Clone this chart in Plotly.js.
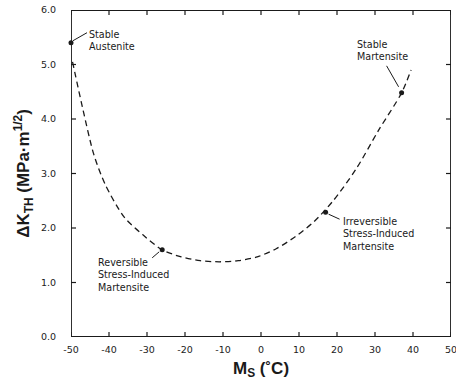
<!DOCTYPE html>
<html>
<head>
<meta charset="utf-8">
<script src="https://cdn.plot.ly/plotly-3.0.1.min.js"></script>
<style>
html,body{margin:0;padding:0;background:#fff;}
#chart{width:456px;height:386px;}
</style>
</head>
<body>
<div id="chart"></div>
<script>
// Dashed fitted curve
const curveX = [-49.6, -47, -44, -41, -36, -31, -26, -21, -16, -11, -6, -1, 4, 9, 14, 19, 25, 31, 37, 39.5];
const curveY = [5.05, 4.22, 3.35, 2.80, 2.20, 1.87, 1.60, 1.47, 1.40, 1.38, 1.40, 1.47, 1.62, 1.84, 2.12, 2.50, 3.08, 3.80, 4.48, 4.90];
// Labelled points
const pointX = [-50, -26, 17, 37];
const pointY = [5.4, 1.6, 2.29, 4.48];
const pointLabels = ["Stable<br>Austenite", "Reversible<br>Stress-Induced<br>Martensite", "Irreversible<br>Stress-Induced<br>Martensite", "Stable<br>Martensite"];
const xTicks = [-50, -40, -30, -20, -10, 0, 10, 20, 30, 40, 50];
const yTicks = [0, 1, 2, 3, 4, 5, 6];
const xRange = [-50, 50];
const yRange = [0, 6];

const ink = '#1a1a1a';
const W = 456, H = 386, M = {l: 71, r: 5, t: 10, b: 49};
const plotW = W - M.l - M.r, plotH = H - M.t - M.b;
const tickPx = 5;
const tdx = tickPx * (xRange[1] - xRange[0]) / plotW;  // tick length in x units
const tdy = tickPx * (yRange[1] - yRange[0]) / plotH;  // tick length in y units

// frame (from axis ranges) and inside ticks on all four sides (from tick arrays)
const frameX = [xRange[0], xRange[1], xRange[1], xRange[0], xRange[0]];
const frameY = [yRange[0], yRange[0], yRange[1], yRange[1], yRange[0]];
const tickX = [], tickY = [];
xTicks.forEach(v => {
  tickX.push(v, v, null, v, v, null);
  tickY.push(yRange[0], yRange[0] + tdy, null, yRange[1], yRange[1] - tdy, null);
});
yTicks.forEach(v => {
  tickX.push(xRange[0], xRange[0] + tdx, null, xRange[1], xRange[1] - tdx, null);
  tickY.push(v, v, null, v, v, null);
});

const traces = [
  {x: tickX, y: tickY, mode: 'lines', type: 'scatter', cliponaxis: false, connectgaps: false,
   line: {color: ink, width: 1.2}, hoverinfo: 'skip'},
  {x: frameX, y: frameY, mode: 'lines', type: 'scatter', cliponaxis: false,
   line: {color: ink, width: 1.8}, hoverinfo: 'skip'},
  {x: curveX, y: curveY, mode: 'lines', type: 'scatter',
   line: {color: ink, width: 1.3, dash: '6px,4px', shape: 'spline', smoothing: 0.8},
   hoverinfo: 'skip'},
  {x: pointX, y: pointY, mode: 'markers', type: 'scatter', cliponaxis: false,
   marker: {color: ink, size: 5}, hoverinfo: 'skip'}
];

// leader lines (pixel offsets from each point) and label placement
const leaders = [[2, -2, 16, -10], [-3, 2, -10, 8], [3, 2, 14, 7], [-3, -6, -15, -27]];
const textPos = [
  {tx: 16, ty: -2, xanchor: 'left', yanchor: 'middle'},
  {tx: -66, ty: 5, xanchor: 'left', yanchor: 'top'},
  {tx: 15, ty: 2, xanchor: 'left', yanchor: 'top'},
  {tx: -47, ty: -29, xanchor: 'left', yanchor: 'bottom'}
];
const shapes = pointX.map((px, i) => ({
  type: 'line', xref: 'x', yref: 'y', xsizemode: 'pixel', ysizemode: 'pixel',
  xanchor: px, yanchor: pointY[i],
  x0: leaders[i][0], x1: leaders[i][2], y0: -leaders[i][1], y1: -leaders[i][3],
  line: {color: ink, width: 1}
}));

const annFont = {family: 'DejaVu Sans, sans-serif', size: 9.6, color: ink};
const annotations = pointX.map((px, i) => ({
  x: px, y: pointY[i], xref: 'x', yref: 'y', ax: textPos[i].tx, ay: textPos[i].ty,
  showarrow: true, arrowwidth: 0.1, arrowcolor: 'rgba(0,0,0,0)', text: pointLabels[i],
  xanchor: textPos[i].xanchor, yanchor: textPos[i].yanchor, align: 'left', font: annFont
}));

const tickFont = {family: 'DejaVu Sans, sans-serif', size: 9.5, color: '#222'};
const titleFont = {family: 'Liberation Sans, Arial, sans-serif', size: 17, color: ink};

const layout = {
  width: W, height: H, margin: M,
  paper_bgcolor: '#fff', plot_bgcolor: 'rgba(0,0,0,0)',
  showlegend: false,
  xaxis: {
    range: xRange, showgrid: false, zeroline: false, showline: false, ticks: '',
    tickmode: 'array', tickvals: xTicks, ticktext: xTicks.map(String),
    tickfont: tickFont, ticklabelstandoff: 5, ticklabeloverflow: 'allow',
    title: {text: '<b>M<sub>S</sub> (˚C)</b>', font: titleFont, standoff: 8}
  },
  yaxis: {
    range: yRange, showgrid: false, zeroline: false, showline: false, ticks: '',
    tickmode: 'array', tickvals: yTicks, ticktext: yTicks.map(v => v.toFixed(1)),
    tickfont: tickFont, ticklabelstandoff: 14, ticklabeloverflow: 'allow',
    title: {text: '<b>ΔK<sub>TH</sub> (MPa·m<sup>1/2</sup>)</b>', font: titleFont, standoff: 6}
  },
  shapes: shapes,
  annotations: annotations
};

Plotly.newPlot('chart', traces, layout, {displayModeBar: false, staticPlot: true});
</script>
</body>
</html>
